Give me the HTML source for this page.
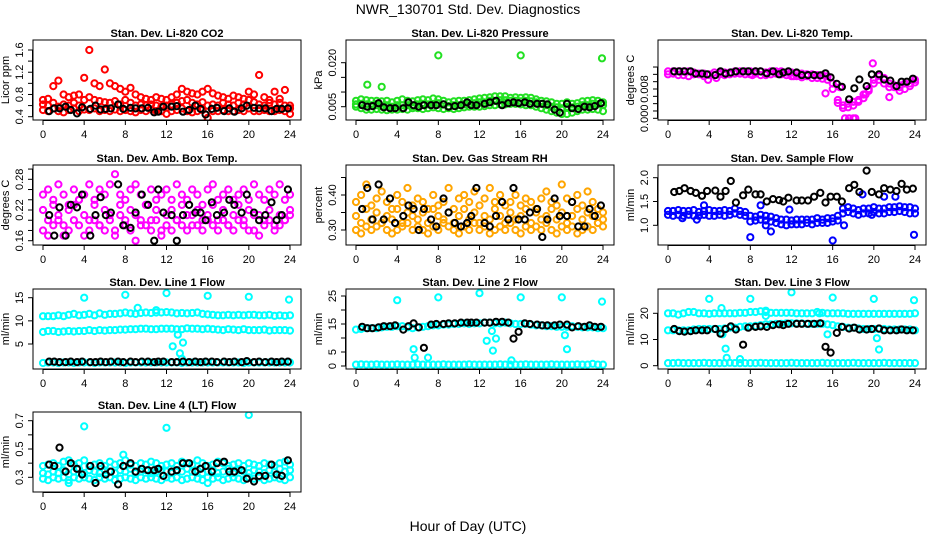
<!DOCTYPE html>
<html><head><meta charset="utf-8"><style>
html,body{margin:0;padding:0;background:#fff;}
svg{display:block;font-family:"Liberation Sans",sans-serif;}
</style></head><body>
<svg id="chart" width="936" height="540" viewBox="0 0 936 540" xmlns="http://www.w3.org/2000/svg">
<rect width="936" height="540" fill="#fff"/>
<text x="468" y="14" font-size="14" text-anchor="middle">NWR_130701  Std. Dev. Diagnostics</text>
<text x="468" y="531" font-size="14" text-anchor="middle">Hour of Day (UTC)</text>
</svg>
<script>
const HRS = [0,0.5,1,1.5,2,2.5,3,3.5,4,4.5,5,5.5,6,6.5,7,7.5,8,8.5,9,9.5,10,10.5,11,11.5,12,12.5,13,13.5,14,14.5,15,15.5,16,16.5,17,17.5,18,18.5,19,19.5,20,20.5,21,21.5,22,22.5,23,23.5,24];
const KHRS = [0.6,1.1,1.6,2.2,2.7,3.3,3.8,4.6,5.1,5.6,6.1,6.6,7.3,7.8,8.5,9.0,9.6,10.2,10.8,11.2,11.7,12.5,13.0,13.6,14.2,14.8,15.3,15.8,16.4,16.9,17.6,18.1,18.6,19.3,19.8,20.5,21.0,21.6,22.2,22.7,23.2,23.8];
const X_TICKS = [0,4,8,12,16,20,24];

const co2A = [0.52,0.5,0.55,0.5,0.48,0.52,0.55,0.5,0.53,0.52,0.55,0.5,0.52,0.5,0.53,0.5,0.52,0.5,0.48,0.52,0.5,0.53,0.5,0.5,0.45,0.5,0.52,0.55,0.5,0.48,0.5,0.52,0.38,0.5,0.5,0.52,0.5,0.5,0.52,0.5,0.55,0.5,0.5,0.52,0.5,0.5,0.52,0.5,0.45];
const co2B = [0.62,0.6,0.65,0.58,0.62,0.6,0.65,0.6,0.7,0.75,0.7,0.68,0.66,0.65,0.68,0.62,0.7,0.65,0.6,0.62,0.6,0.62,0.6,0.58,0.6,0.62,0.65,0.68,0.7,0.65,0.62,0.66,0.6,0.62,0.6,0.65,0.62,0.6,0.65,0.62,0.7,0.66,0.62,0.6,0.65,0.62,0.65,0.6,0.55];
const co2C = [0.7,0.72,0.95,1.05,0.8,0.75,0.78,0.8,1.1,1.6,1.0,0.95,1.25,1.0,0.95,0.9,0.85,0.92,0.8,0.75,0.72,0.7,0.75,0.72,0.7,0.75,0.8,0.9,0.85,0.82,0.8,0.85,0.9,0.82,0.78,0.75,0.72,0.78,0.75,0.72,0.85,0.8,1.15,0.75,0.7,0.85,0.72,0.88,0.6];
const co2K = [0.5,0.55,0.55,0.58,0.52,0.46,0.57,0.54,0.6,0.53,0.54,0.55,0.62,0.54,0.56,0.55,0.55,0.56,0.48,0.49,0.58,0.58,0.59,0.49,0.52,0.6,0.54,0.44,0.54,0.56,0.5,0.55,0.49,0.55,0.6,0.56,0.55,0.55,0.5,0.54,0.54,0.55];

const presA = [0.005,0.0045,0.004,0.004,0.0042,0.004,0.0038,0.004,0.004,0.0042,0.004,0.0045,0.0045,0.0042,0.0045,0.0048,0.0045,0.0042,0.0045,0.0042,0.0045,0.0048,0.005,0.005,0.005,0.0052,0.0055,0.0055,0.0058,0.0058,0.006,0.006,0.0058,0.0055,0.0055,0.005,0.0045,0.004,0.0035,0.003,0.0025,0.0025,0.003,0.0035,0.004,0.004,0.0042,0.004,0.0035];
const presB = [0.0058,0.006,0.0058,0.0055,0.0055,0.0052,0.0055,0.005,0.0055,0.0055,0.0055,0.0052,0.0058,0.006,0.0058,0.006,0.0062,0.0058,0.0052,0.0055,0.0055,0.0058,0.006,0.0062,0.0065,0.0065,0.007,0.007,0.0072,0.0072,0.007,0.007,0.0068,0.007,0.0068,0.0065,0.006,0.0055,0.005,0.0048,0.0045,0.005,0.0048,0.005,0.0055,0.0055,0.006,0.0058,0.0055];
const presC = [0.007,0.0075,0.0072,0.007,0.007,0.0068,0.007,0.0065,0.007,0.0075,0.007,0.0068,0.0072,0.0075,0.0072,0.0078,0.0075,0.007,0.0065,0.0068,0.007,0.007,0.0072,0.0075,0.0078,0.008,0.0082,0.0085,0.0085,0.0085,0.008,0.0082,0.008,0.0082,0.008,0.0075,0.007,0.0068,0.0065,0.006,0.006,0.0065,0.006,0.0062,0.0068,0.007,0.0072,0.007,0.0065];
const presOutH = [1.1,2.5,8,16,23.9];
const presOutV = [0.0125,0.0118,0.0225,0.0225,0.0215];
const presK = [0.0055,0.005,0.0052,0.0062,0.0048,0.0045,0.0045,0.0045,0.0065,0.0055,0.005,0.0055,0.0055,0.0055,0.0058,0.005,0.0052,0.0055,0.0065,0.0055,0.0055,0.006,0.0065,0.007,0.0055,0.0062,0.0065,0.0062,0.0065,0.006,0.006,0.006,0.0058,0.004,0.003,0.006,0.0045,0.0042,0.005,0.0048,0.0052,0.0062];

const tempA = [0.0128,0.0128,0.0128,0.0128,0.0128,0.0125,0.0122,0.0122,0.012,0.0125,0.0125,0.0125,0.0125,0.0128,0.0128,0.0128,0.0128,0.0128,0.0128,0.0125,0.0128,0.0128,0.0128,0.0125,0.0125,0.0122,0.0122,0.012,0.012,0.0118,0.0118,0.0115,0.0095,0.005,0.0035,0.004,0.0045,0.005,0.0065,0.008,0.0095,0.0105,0.0095,0.0085,0.0085,0.009,0.0095,0.0095,0.0105];
const tempB = [0.012,0.0122,0.0118,0.0118,0.0115,0.012,0.012,0.0115,0.0118,0.0118,0.012,0.0118,0.012,0.0122,0.0122,0.012,0.012,0.0122,0.0118,0.0118,0.012,0.0122,0.012,0.0118,0.0115,0.0115,0.0112,0.0115,0.011,0.011,0.0108,0.0105,0.008,0.0042,0.0028,0.003,0.0035,0.0045,0.0055,0.0075,0.0105,0.0115,0.011,0.0095,0.009,0.0085,0.008,0.0088,0.0098];
const tempOutH = [3.9,4.7,8.2,12.2,15.3,16.7,17.2,17.6,18,18.2,19.2,21.5,22.5,19.9];
const tempOutV = [0.0105,0.011,0.0118,0.0115,0.0068,0.0085,0.0,0.0,0.0,0.0,0.0065,0.0058,0.0075,0.015];
const tempK = [0.0128,0.0128,0.0128,0.0128,0.0122,0.0122,0.012,0.0118,0.0128,0.0122,0.0125,0.0128,0.0128,0.0128,0.0128,0.0128,0.0123,0.0128,0.012,0.0125,0.0128,0.0125,0.0118,0.0118,0.0118,0.0117,0.0123,0.0112,0.0094,0.0086,0.0052,0.0082,0.0106,0.0088,0.012,0.012,0.0106,0.0103,0.0088,0.01,0.01,0.0108];

const ambA = [0.22,0.2,0.23,0.21,0.19,0.22,0.2,0.24,0.21,0.2,0.23,0.19,0.22,0.21,0.18,0.23,0.2,0.22,0.21,0.19,0.23,0.2,0.22,0.18,0.21,0.22,0.2,0.23,0.21,0.19,0.22,0.2,0.21,0.23,0.2,0.22,0.19,0.21,0.23,0.2,0.22,0.18,0.21,0.2,0.22,0.19,0.21,0.2,0.22];
const ambB = [0.25,0.26,0.24,0.27,0.25,0.23,0.26,0.24,0.25,0.27,0.24,0.26,0.25,0.27,0.29,0.25,0.24,0.26,0.27,0.25,0.23,0.26,0.24,0.25,0.26,0.24,0.27,0.25,0.24,0.26,0.25,0.23,0.26,0.27,0.24,0.25,0.26,0.24,0.25,0.26,0.24,0.27,0.25,0.24,0.26,0.25,0.27,0.24,0.25];
const ambC = [0.18,0.17,0.19,0.2,0.17,0.18,0.23,0.19,0.17,0.18,0.2,0.19,0.18,0.2,0.17,0.21,0.19,0.18,0.16,0.2,0.19,0.18,0.2,0.17,0.19,0.18,0.2,0.19,0.18,0.21,0.19,0.18,0.2,0.19,0.18,0.2,0.19,0.18,0.2,0.19,0.18,0.21,0.17,0.19,0.2,0.18,0.19,0.2,0.21];
const ambK = [0.21,0.17,0.225,0.17,0.23,0.225,0.25,0.17,0.21,0.245,0.21,0.215,0.27,0.19,0.185,0.215,0.25,0.23,0.16,0.26,0.215,0.21,0.16,0.21,0.23,0.215,0.215,0.2,0.235,0.21,0.215,0.24,0.23,0.215,0.25,0.215,0.2,0.21,0.235,0.2,0.21,0.26];

const rhA = [0.34,0.32,0.36,0.33,0.35,0.32,0.34,0.33,0.36,0.32,0.35,0.34,0.33,0.35,0.32,0.36,0.34,0.33,0.35,0.32,0.34,0.36,0.33,0.35,0.32,0.34,0.33,0.36,0.34,0.32,0.35,0.33,0.34,0.36,0.32,0.35,0.33,0.34,0.36,0.33,0.35,0.32,0.34,0.36,0.33,0.35,0.34,0.32,0.33];
const rhB = [0.38,0.4,0.43,0.37,0.39,0.41,0.38,0.36,0.4,0.38,0.42,0.37,0.39,0.38,0.36,0.4,0.37,0.38,0.42,0.36,0.39,0.4,0.38,0.41,0.37,0.39,0.42,0.38,0.4,0.37,0.38,0.4,0.37,0.39,0.38,0.36,0.39,0.41,0.38,0.37,0.43,0.39,0.38,0.4,0.37,0.41,0.38,0.36,0.35];
const rhC = [0.3,0.29,0.31,0.3,0.31,0.32,0.3,0.29,0.3,0.31,0.32,0.3,0.31,0.3,0.29,0.31,0.3,0.32,0.31,0.3,0.29,0.31,0.3,0.32,0.3,0.31,0.29,0.3,0.31,0.3,0.32,0.3,0.29,0.31,0.3,0.31,0.3,0.32,0.3,0.29,0.31,0.3,0.31,0.29,0.3,0.31,0.3,0.32,0.31];
const rhK = [0.36,0.42,0.33,0.43,0.33,0.39,0.32,0.34,0.37,0.36,0.3,0.36,0.33,0.31,0.39,0.35,0.32,0.31,0.32,0.34,0.42,0.32,0.31,0.34,0.38,0.33,0.42,0.33,0.33,0.35,0.36,0.28,0.33,0.39,0.34,0.34,0.38,0.31,0.31,0.36,0.34,0.37];

const sfA = [1.3,1.3,1.32,1.3,1.3,1.32,1.28,1.3,1.32,1.3,1.3,1.32,1.3,1.35,1.3,1.28,1.2,1.18,1.22,1.2,1.18,1.15,1.12,1.12,1.1,1.12,1.12,1.12,1.12,1.15,1.12,1.15,1.15,1.2,1.35,1.38,1.35,1.32,1.35,1.35,1.38,1.35,1.35,1.38,1.38,1.4,1.38,1.38,1.35];
const sfB = [1.22,1.2,1.22,1.2,1.22,1.2,1.2,1.22,1.2,1.2,1.22,1.2,1.22,1.25,1.22,1.2,1.08,1.1,1.12,1.1,1.08,1.05,1.02,1.0,1.02,1.02,1.02,1.05,1.02,1.05,1.05,1.05,1.08,1.1,1.25,1.28,1.25,1.22,1.25,1.25,1.28,1.25,1.25,1.28,1.28,1.3,1.28,1.25,1.25];
const sfOutH = [1.4,2.8,3.5,8,9,9.5,10,11.8,16,17.1,18.9,19.8,21,22.1,23.9];
const sfOutV = [1.15,1.12,1.42,0.75,1.42,1.0,0.87,1.33,0.68,1.0,1.65,1.22,1.6,1.6,0.8];
const sfK = [1.7,1.72,1.78,1.72,1.68,1.62,1.72,1.73,1.6,1.72,1.93,1.48,1.63,1.75,1.65,1.65,1.5,1.55,1.53,1.5,1.58,1.52,1.52,1.52,1.6,1.68,1.48,1.6,1.6,1.5,1.78,1.85,1.7,2.15,1.7,1.65,1.78,1.75,1.72,1.87,1.75,1.77];

const l1A = [11,11,11,11.2,11,11.3,11.5,11.2,11.3,11.5,11.2,11.6,11.3,11.5,11.5,11.6,11.8,11.6,11.5,11.7,11.8,11.7,11.8,11.8,11.9,11.8,11.6,11.7,11.6,11.7,11.8,11.5,11.4,11.3,11.2,11.2,11.3,11.2,11.3,11.2,11.3,11.3,11.2,11.2,11.3,11.1,11.2,11.1,11.2];
const l1B = [7.6,7.8,7.8,7.6,7.7,7.8,7.7,7.8,7.8,8,7.8,8,7.9,8,8,8.1,8.1,8.2,8.2,8.3,8.3,8.2,8.2,8.3,8.3,8.3,8.2,8.2,8.4,8.3,8.3,8.2,8.3,8.2,8.1,8,8.2,8.1,8,8.2,8,8,8,8.1,7.9,8,8,8,7.9];
const l1C = [0.9,1,1,0.9,1,1,0.9,1,1,1,0.9,1,1,1,1,1,0.9,1,1,1,1,1,1,1,1,1,1,0.9,1,1,1,1,1,1,1,1,1,1,1,0.9,1,1,1,1,1,1,1,1,1];
const l1OutH = [4,8,9.2,11,12,12.6,13.1,13.3,13.6,13.5,16,20,23.9];
const l1OutV = [15,15.6,12.8,12.3,16,4.5,7,3,5.3,1.8,15.4,15.2,14.6];
const l1K = [1.2,1.2,1.1,1.1,1.2,1.1,1.2,1.1,1.1,1.2,1.1,1.2,1.2,1.1,1.2,1.1,1.2,1.2,1.1,1.2,1.2,1.1,1.1,1.2,1.1,1.2,1.1,1.2,1.2,1.1,1.2,1.1,1.2,1.1,1.3,1.1,1.2,1.1,1.2,1.1,1.2,1.2];

const l2A = [13,13.2,13.5,13.5,13.5,13.8,14,14,14.2,14.2,13.8,13.5,13.8,14,14.2,14.5,14.5,14.8,14.8,15,15,15.2,15,15.2,15.2,15.5,15.5,15.2,15.2,15.5,15.2,15,15,15,14.8,14.5,14.5,14.2,14.2,14,14,14,14.2,14,13.8,13.8,13.8,13.5,13.5];
const l2B = [0.5,0.6,0.5,0.5,0.6,0.5,0.5,0.5,0.6,0.5,0.5,0.5,0.6,0.5,0.5,0.5,0.5,0.6,0.5,0.5,0.5,0.5,0.6,0.5,0.5,0.5,0.5,0.5,0.6,0.5,0.5,0.5,0.5,0.6,0.5,0.5,0.5,0.5,0.6,0.5,0.5,0.5,0.5,0.6,0.5,0.5,0.8,0.5,0.5];
const l2OutH = [4,5.6,5.7,7,8,12,12.7,13.2,13.3,13.6,15.1,15.5,16,20,20.3,20.5,23.9];
const l2OutV = [23.5,6,3,3,24.5,26,9,12.5,5.5,9.8,2,15,24.5,24.5,11,6,23];
const l2K = [14,13.5,13.5,13.8,14.2,14.2,14.5,13,14.2,15.2,13.8,6.5,14.8,15,15,15.2,15.2,15.5,15.5,15.5,15.5,15.5,15.5,15.8,15.8,15.5,9.8,12.2,15.2,15,14.8,14.5,14.5,14.5,14.8,14.8,13.8,14.2,14,14.5,14,14];

const l3A = [20,20,19.5,20,20.5,20.5,20,20,19.8,20,20,20,20,20,20.2,20.2,20.5,20.5,20.8,20.5,20.2,20.2,20.2,20.2,20.2,20,20,20,20,20.5,20.2,20,20,20,20,19.8,19.8,19.8,19.8,19.8,19.8,19.8,19.8,19.8,19.8,19.8,19.8,19.8,20];
const l3B = [13.5,13.5,13.5,13.5,13.5,13.8,14,14,14,14,14,14.2,14.5,14.5,14.8,15,15,15.2,15.5,15.8,15.8,16,16,16.2,16.2,16.2,16.2,16,16,16,16,15.8,15.5,15,14.8,14.5,14.5,14.2,14,14,14,14,14,13.8,13.8,13.8,13.8,13.8,13.5];
const l3C = [1,1,1.1,1,1,1,1,1.1,1,1,1,1,1.1,1,1,1,1,1,1.1,1,1,1,1,1,1.1,1,1,1,1,1,1.1,1,1,1,1,1,1.1,1,1,1,1,1,1.1,1,1,1,1,1,1];
const l3OutH = [4,5.2,5.3,5.6,5.7,7,8,9.5,9.5,12,14.7,15.5,16,20,20.3,20.5,23.9];
const l3OutV = [25.5,22,12,6.5,3,2.5,25.5,21,19,28,20,12,26,25.5,10.5,6.2,25];
const l3K = [14,13.2,13,13.2,13.5,13.5,13.5,14,12.2,14,15,13.8,8,14.5,14.8,15,14.8,15.5,15.8,15.5,16,16,16,16,16,16.2,7.2,5,12.5,14.8,14.2,14.5,13.8,13.8,14,14.2,13.5,13.5,13.5,13.8,13.5,13.5];

const l4A = [0.33,0.32,0.34,0.33,0.35,0.32,0.34,0.36,0.33,0.35,0.34,0.33,0.35,0.34,0.33,0.35,0.34,0.36,0.33,0.34,0.35,0.33,0.34,0.35,0.34,0.33,0.35,0.34,0.36,0.34,0.35,0.33,0.34,0.35,0.33,0.34,0.36,0.33,0.35,0.34,0.33,0.35,0.34,0.33,0.35,0.34,0.36,0.34,0.35];
const l4B = [0.38,0.39,0.4,0.38,0.41,0.42,0.39,0.4,0.42,0.38,0.39,0.4,0.38,0.41,0.39,0.4,0.42,0.39,0.38,0.4,0.39,0.41,0.4,0.38,0.39,0.4,0.38,0.41,0.4,0.39,0.42,0.4,0.38,0.39,0.41,0.4,0.38,0.39,0.4,0.38,0.4,0.39,0.38,0.4,0.39,0.38,0.4,0.41,0.39];
const l4C = [0.29,0.28,0.3,0.29,0.3,0.28,0.3,0.29,0.3,0.29,0.28,0.3,0.29,0.3,0.28,0.29,0.3,0.29,0.28,0.3,0.29,0.3,0.29,0.28,0.3,0.29,0.3,0.28,0.29,0.3,0.29,0.28,0.3,0.29,0.3,0.28,0.29,0.3,0.29,0.28,0.3,0.29,0.3,0.28,0.29,0.3,0.29,0.28,0.3];
const l4OutH = [2.5,4,7.8,12,16,20];
const l4OutV = [0.26,0.66,0.46,0.65,0.26,0.74];
const l4K = [0.39,0.38,0.51,0.34,0.4,0.36,0.32,0.38,0.26,0.38,0.32,0.34,0.25,0.38,0.4,0.34,0.36,0.35,0.35,0.36,0.31,0.34,0.35,0.4,0.4,0.34,0.36,0.38,0.34,0.4,0.41,0.34,0.34,0.35,0.29,0.27,0.31,0.31,0.39,0.32,0.31,0.42];

const NS = "http://www.w3.org/2000/svg";
const svg = document.getElementById('chart');
const COL_LEFT = [33, 346, 658];
const ROW_TOP = [40, 165, 289, 412];
const BOX_W = 268, BOX_H = 80;

function el(tag, attrs, parent) {
  const e = document.createElementNS(NS, tag);
  for (const k in attrs) e.setAttribute(k, attrs[k]);
  (parent || svg).appendChild(e);
  return e;
}

const panels = [
  {key:'co2', c:0, r:0, title:'Stan. Dev. Li-820 CO2', ylab:'Licor ppm', ref:[0.4,76.7,1.6,10], ticks:[0.4,0.6,0.8,1.0,1.2,1.4,1.6], labels:[0.4,0.8,1.2,1.6], fmt:1, color:'#ff0000',
   series:[[HRS,co2A],[HRS,co2B],[HRS,co2C]], black:co2K},
  {key:'pressure', c:1, r:0, title:'Stan. Dev. Li-820 Pressure', ylab:'kPa', ref:[0.005,66.7,0.020,22.7], ticks:[0.005,0.010,0.015,0.020], labels:[0.005,0.020], fmt:3, color:'#22e022',
   series:[[HRS,presA],[HRS,presB],[HRS,presC],[presOutH,presOutV]], black:presK},
  {key:'li820-temp', c:2, r:0, title:'Stan. Dev. Li-820 Temp.', ylab:'degrees C', ref:[0,78.3,0.008,49], ticks:[0,0.002,0.004,0.006,0.008,0.010,0.012,0.014], labels:[0,0.008], fmt:3, color:'#ff00ff',
   series:[[HRS,tempA],[HRS,tempB],[tempOutH,tempOutV]], black:tempK},
  {key:'amb-box-temp', c:0, r:1, title:'Stan. Dev. Amb. Box Temp.', ylab:'degrees C', ref:[0.16,75.7,0.28,14.3], ticks:[0.16,0.18,0.20,0.22,0.24,0.26,0.28,0.30], labels:[0.16,0.22,0.28], fmt:2, color:'#ff00ff',
   series:[[HRS,ambA],[HRS,ambB],[HRS,ambC]], black:ambK},
  {key:'gas-stream-rh', c:1, r:1, title:'Stan. Dev. Gas Stream RH', ylab:'percent', ref:[0.30,65,0.40,30], ticks:[0.30,0.35,0.40,0.45], labels:[0.30,0.40], fmt:2, color:'#ffa500',
   series:[[HRS,rhA],[HRS,rhB],[HRS,rhC]], black:rhK},
  {key:'sample-flow', c:2, r:1, title:'Stan. Dev. Sample Flow', ylab:'ml/min', ref:[1.0,60.3,2.0,12.7], ticks:[1.0,1.5,2.0], labels:[1.0,1.5,2.0], fmt:1, color:'#0000ff',
   series:[[HRS,sfA],[HRS,sfB],[sfOutH,sfOutV]], black:sfK},
  {key:'line1-flow', c:0, r:2, title:'Stan. Dev. Line 1 Flow', ylab:'ml/min', ref:[5,55,15,8.7], ticks:[5,10,15], labels:[5,10,15], fmt:0, color:'#00ffff',
   series:[[HRS,l1A],[HRS,l1B],[HRS,l1C],[l1OutH,l1OutV]], black:l1K},
  {key:'line2-flow', c:1, r:2, title:'Stan. Dev. Line 2 Flow', ylab:'ml/min', ref:[0,77,25,7], ticks:[0,5,10,15,20,25], labels:[0,5,15,25], fmt:0, color:'#00ffff',
   series:[[HRS,l2A],[HRS,l2B],[l2OutH,l2OutV]], black:l2K},
  {key:'line3-flow', c:2, r:2, title:'Stan. Dev. Line 3 Flow', ylab:'ml/min', ref:[0,76.7,20,24.3], ticks:[0,10,20], labels:[0,10,20], fmt:0, color:'#00ffff',
   series:[[HRS,l3A],[HRS,l3B],[HRS,l3C],[l3OutH,l3OutV]], black:l3K},
  {key:'line4-flow', c:0, r:3, title:'Stan. Dev. Line 4 (LT) Flow', ylab:'ml/min', ref:[0.3,65.3,0.7,8.7], ticks:[0.3,0.4,0.5,0.6,0.7], labels:[0.3,0.5,0.7], fmt:1, color:'#00ffff',
   series:[[HRS,l4A],[HRS,l4B],[HRS,l4C],[l4OutH,l4OutV]], black:l4K}
];

panels.forEach(p => {
  const L = COL_LEFT[p.c], T = ROW_TOP[p.r], B = T + BOX_H, R = L + BOX_W;
  const x0 = L + 10, x1 = R - 11;
  const xs = h => x0 + (h / 24) * (x1 - x0);
  const [v0, o0, v1, o1] = p.ref;
  const ys = v => T + o0 + (v - v0) * (o1 - o0) / (v1 - v0);
  const g = el('g', {});
  
  
  const clipId = 'clip-' + p.key;
  const cp = el('clipPath', {id: clipId}, g);
  el('rect', {x: L, y: T, width: BOX_W, height: BOX_H}, cp);

  const t = el('text', {x: (L + R) / 2, y: T - 3, 'font-size': 11, 'font-weight': 'bold', 'text-anchor': 'middle'}, g);
  
  
  t.textContent = p.title;

  const pts = el('g', {'clip-path': 'url(#' + clipId + ')', fill: 'none', 'stroke-width': 2}, g);
  
  
  p.series.forEach((s, si) => {
    const [hh, vv] = s;
    for (let i = 0; i < hh.length; i++) {
      const c = el('circle', {cx: xs(hh[i]).toFixed(1), cy: ys(vv[i]).toFixed(1), r: 3.1, stroke: p.color}, pts);
      
      
    }
  });
  for (let i = 0; i < KHRS.length; i++) {
    const c = el('circle', {cx: xs(KHRS[i]).toFixed(1), cy: ys(p.black[i]).toFixed(1), r: 3.1, stroke: '#000', 'stroke-width': 2}, pts);
    
    
  }

  const box = el('rect', {x: L, y: T, width: BOX_W, height: BOX_H, fill: 'none', stroke: '#000', 'stroke-width': 1}, g);
  
  

  const xa = el('g', {stroke: '#000', 'stroke-width': 1}, g);
  
  
  el('line', {x1: xs(0), y1: B + 0.5, x2: xs(24), y2: B + 0.5}, xa);
  X_TICKS.forEach(h => {
    el('line', {x1: xs(h), y1: B, x2: xs(h), y2: B + 5}, xa);
    const lt = el('text', {x: xs(h), y: B + 18, 'font-size': 11, 'text-anchor': 'middle', stroke: 'none'}, xa);
    
    
    lt.textContent = h;
  });

  const ya = el('g', {stroke: '#000', 'stroke-width': 1}, g);
  
  
  const tk = p.ticks.filter(v => ys(v) >= T - 1 && ys(v) <= B + 1);
  el('line', {x1: L - 0.5, y1: ys(tk[0]), x2: L - 0.5, y2: ys(tk[tk.length - 1])}, ya);
  tk.forEach(v => el('line', {x1: L - 5, y1: ys(v), x2: L, y2: ys(v)}, ya));
  p.labels.forEach(v => {
    const yy = ys(v), xx = L - 10;
    const lt = el('text', {x: xx, y: yy, 'font-size': 11, 'text-anchor': 'middle', stroke: 'none', transform: 'rotate(-90 ' + xx + ' ' + yy + ')'}, ya);
    
    
    lt.textContent = v.toFixed(p.fmt);
  });
  const yx = L - 24, yy = (T + B) / 2;
  const yt = el('text', {x: yx, y: yy, 'font-size': 11, 'text-anchor': 'middle', transform: 'rotate(-90 ' + yx + ' ' + yy + ')'}, g);
  
  
  yt.textContent = p.ylab;
});
</script>
</body></html>
